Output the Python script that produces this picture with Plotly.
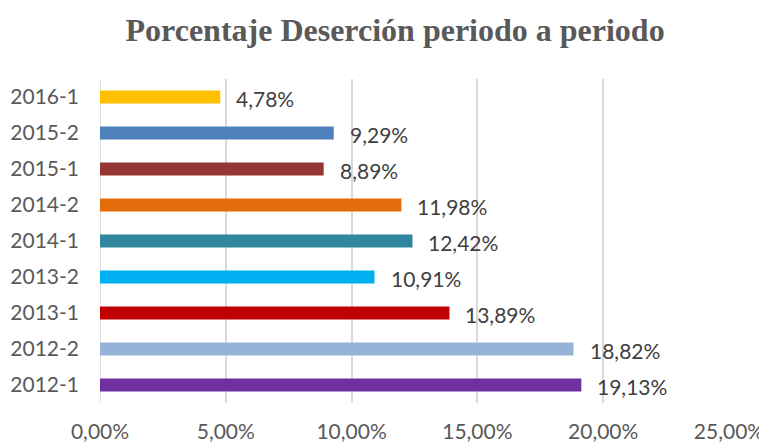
import plotly.graph_objects as go

categories = ["2012-1", "2012-2", "2013-1", "2013-2", "2014-1", "2014-2", "2015-1", "2015-2", "2016-1"]
values = [19.13, 18.82, 13.89, 10.91, 12.42, 11.98, 8.89, 9.29, 4.78]
labels = ["19,13%", "18,82%", "13,89%", "10,91%", "12,42%", "11,98%", "8,89%", "9,29%", "4,78%"]
colors = ["#7030A0", "#95B3D7", "#C00000", "#00B0F0", "#31859C", "#E46C0A", "#953735", "#4F81BD", "#FFC000"]
tick_vals = [0, 5, 10, 15, 20, 25]
tick_text = ["0,00%", "5,00%", "10,00%", "15,00%", "20,00%", "25,00%"]

fig = go.Figure(go.Bar(
    y=categories, x=values, orientation="h",
    marker=dict(color=colors, line=dict(width=0)),
    width=0.36,
))

for c, v, t in zip(categories, values, labels):
    fig.add_annotation(x=v, y=c, xref="x", yref="y", text=t, showarrow=False,
                       xanchor="left", yanchor="middle", xshift=14, yshift=-1,
                       font=dict(family="Lato", size=21, color="#404040"))

fig.update_layout(
    width=759, height=437,
    margin=dict(l=92, r=38, t=71, b=42),
    paper_bgcolor="white", plot_bgcolor="white",
    title=dict(text="<b>Porcentaje Deserción periodo a periodo</b>", x=0.51, xanchor="center",
               xref="container", y=0.95, yanchor="middle",
               font=dict(family="Liberation Serif", size=32, color="#595959")),
    showlegend=False,
    xaxis=dict(range=[0, 25], tickvals=tick_vals, ticktext=tick_text,
               showgrid=True, gridcolor="#d9d9d9", gridwidth=1.5, zeroline=False,
               tickfont=dict(family="Lato", size=21, color="#595959"),
               ticklabelstandoff=14, automargin=False, fixedrange=True),
    yaxis=dict(type="category", showgrid=False, showline=False, zeroline=False,
               tickfont=dict(family="Lato", size=21, color="#595959"),
               ticklabelstandoff=20, automargin=False,
               categoryorder="array", categoryarray=categories),
)
fig.add_shape(type="line", xref="x", yref="paper", x0=0, x1=0, y0=0, y1=1,
              line=dict(color="#d9d9d9", width=1.5), layer="below")

fig.write_html("out.html")
